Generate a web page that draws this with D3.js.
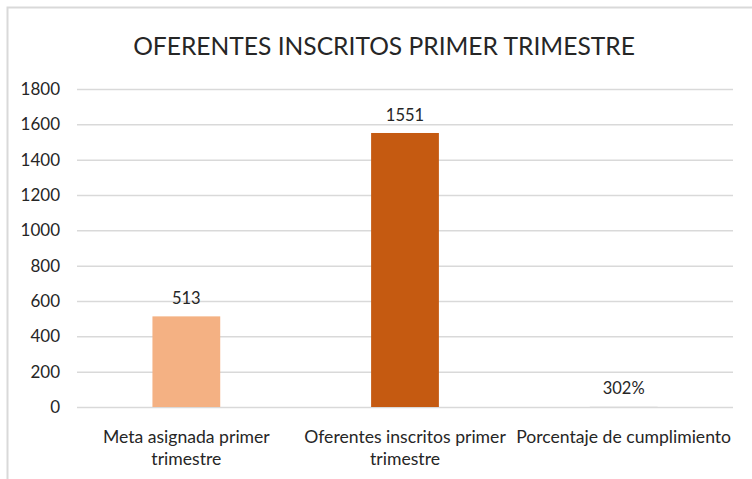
<!DOCTYPE html>
<html>
<head>
<meta charset="utf-8">
<script src="https://cdn.jsdelivr.net/npm/d3@7"></script>
<style>
  html, body { margin: 0; padding: 0; background: #fff; }
  svg { display: block; font-family: Lato, "Open Sans", sans-serif; }
</style>
</head>
<body>
<svg id="chart" width="752" height="479"></svg>
<script>
// values
const categories = [
  ["Meta asignada primer", "trimestre"],
  ["Oferentes inscritos primer", "trimestre"],
  ["Porcentaje de cumplimiento"]
]
const values = [513, 1551, 3.02]
const valueLabels = ["513", "1551", "302%"]
const barColors = ["#F4B183", "#C55A11", "#E3E3E3"]
const yTicks = [0, 200, 400, 600, 800, 1000, 1200, 1400, 1600, 1800]

const svg = d3.select("#chart")

// chart frame (only top and left edges are inside the shot)
svg.append("path")
  .attr("d", "M7.5,479 V7.5 H752")
  .attr("fill", "none")
  .attr("stroke", "#d9d9d9")
  .attr("stroke-width", 2)

const plot = { left: 77, right: 733, top: 89, bottom: 407 }

const x = d3.scaleBand()
  .domain(d3.range(categories.length))
  .range([plot.left, plot.right])
  .paddingInner(0.69)
  .paddingOuter(0.345)

const y = d3.scaleLinear()
  .domain([0, 1800])
  .range([plot.bottom, plot.top])

// title
svg.append("text")
  .attr("x", 384)
  .attr("y", 55)
  .attr("text-anchor", "middle")
  .attr("font-size", 24.6)
  .attr("fill", "#262626")
  .text("OFERENTES INSCRITOS PRIMER TRIMESTRE")

// gridlines + tick labels via axis
const yAxis = d3.axisLeft(y)
  .tickValues(yTicks)
  .tickFormat(d3.format("d"))
  .tickSize(-(plot.right - plot.left))
  .tickPadding(17)
const gy = svg.append("g")
  .attr("transform", `translate(${plot.left},0)`)
  .call(yAxis)
gy.select(".domain").remove()
gy.selectAll(".tick line").attr("stroke", "#d9d9d9").attr("stroke-width", 1.5)
gy.selectAll(".tick text")
  .attr("fill", "#262626")
  .attr("font-size", 17)
  .attr("font-family", "Lato, sans-serif")

// bars
svg.append("g").selectAll("rect")
  .data(values)
  .join("rect")
  .attr("x", (d, i) => x(i))
  .attr("width", x.bandwidth())
  .attr("y", d => y(d))
  .attr("height", d => y(0) - y(d))
  .attr("fill", (d, i) => barColors[i])

// data labels
svg.append("g").selectAll("text")
  .data(values)
  .join("text")
  .attr("x", (d, i) => x(i) + x.bandwidth() / 2)
  .attr("y", d => y(d) - 12)
  .attr("text-anchor", "middle")
  .attr("font-size", 16.5)
  .attr("fill", "#262626")
  .text((d, i) => valueLabels[i])

// category labels
const cat = svg.append("g").selectAll("text")
  .data(categories)
  .join("text")
  .attr("x", (d, i) => x(i) + x.bandwidth() / 2)
  .attr("y", 443)
  .attr("text-anchor", "middle")
  .attr("font-size", 17.6)
  .attr("fill", "#262626")
cat.selectAll("tspan")
  .data(d => d)
  .join("tspan")
  .attr("x", function () { return d3.select(this.parentNode).attr("x") })
  .attr("dy", (d, i) => i === 0 ? 0 : 22)
  .text(d => d)
</script>
</body>
</html>
